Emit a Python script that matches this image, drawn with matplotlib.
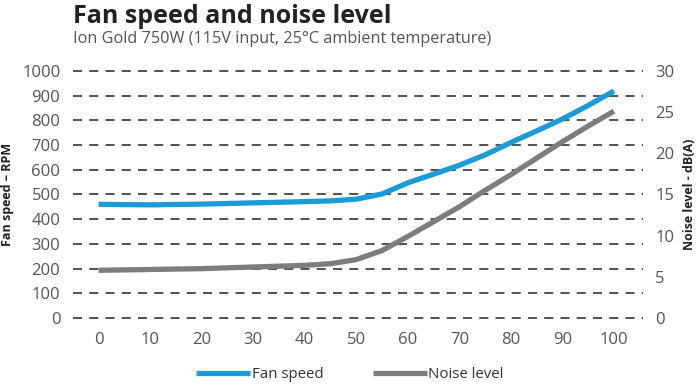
import matplotlib
matplotlib.use("Agg")
import matplotlib.pyplot as plt

plt.rcParams['font.family'] = ['Open Sans', 'DejaVu Sans']

load = [0, 10, 20, 30, 40, 45, 50, 55, 60, 65, 70, 75, 80, 85, 90, 95, 100]
fan_rpm = [460, 458, 461, 466, 471, 474, 481, 502, 547, 582, 618, 660, 710, 757, 805, 860, 918]
noise_db = [5.8, 5.9, 6.0, 6.2, 6.4, 6.6, 7.1, 8.2, 9.9, 11.7, 13.5, 15.5, 17.4, 19.4, 21.4, 23.3, 25.1]

x_ticks = list(range(0, 101, 10))
rpm_ticks = list(range(0, 1001, 100))
db_ticks = list(range(0, 31, 5))

blue = '#1b9bd7'
grey = '#7d7d7d'
txt = '#555555'

fig = plt.figure(figsize=(7, 3.87), dpi=100)
ax = fig.add_axes([0.104, 0.178, 0.815, 0.639])
ax2 = ax.twinx()

l1, = ax.plot(load, fan_rpm, color=blue, lw=3.8, solid_capstyle='butt', label='Fan speed', zorder=3)
l2, = ax2.plot(load, noise_db, color=grey, lw=3.8, solid_capstyle='butt', label='Noise level', zorder=3)

ax.set_xlim(-5, 105.7)
ax.set_ylim(0, 1000)
ax2.set_ylim(0, 30)
ax.set_xticks(x_ticks)
ax.set_yticks(rpm_ticks)
ax2.set_yticks(db_ticks)

for a in (ax, ax2):
    for s in a.spines.values():
        s.set_visible(False)
    a.tick_params(length=0, labelsize=12, colors=txt)
ax.tick_params(axis='y', pad=9)
ax2.tick_params(axis='y', pad=8.5)
ax.tick_params(axis='x', pad=10)

ax.grid(axis='y', color='#444444', lw=1.3, linestyle=(0, (5, 4)), clip_on=False)
ax.set_axisbelow(True)

ax.set_ylabel('Fan speed – RPM', fontsize=9, fontweight='bold', color='#222222', labelpad=6)
ax2.set_ylabel('Noise level - dB(A)', fontsize=9, fontweight='bold', color='#222222', labelpad=6)

fig.text(0.104, 0.94, 'Fan speed and noise level', fontsize=18, fontweight='bold', color='#222222')
fig.text(0.104, 0.888, 'Ion Gold 750W (115V input, 25°C ambient temperature)', fontsize=11.7, color=txt)

fig.legend(handles=[l1, l2], loc='lower center', bbox_to_anchor=(0.5, -0.022), ncol=2, frameon=False,
           fontsize=10.8, handlelength=3.6, handletextpad=0.1, columnspacing=3.3, labelcolor='#333333')

fig.savefig('out.png', dpi=100)
